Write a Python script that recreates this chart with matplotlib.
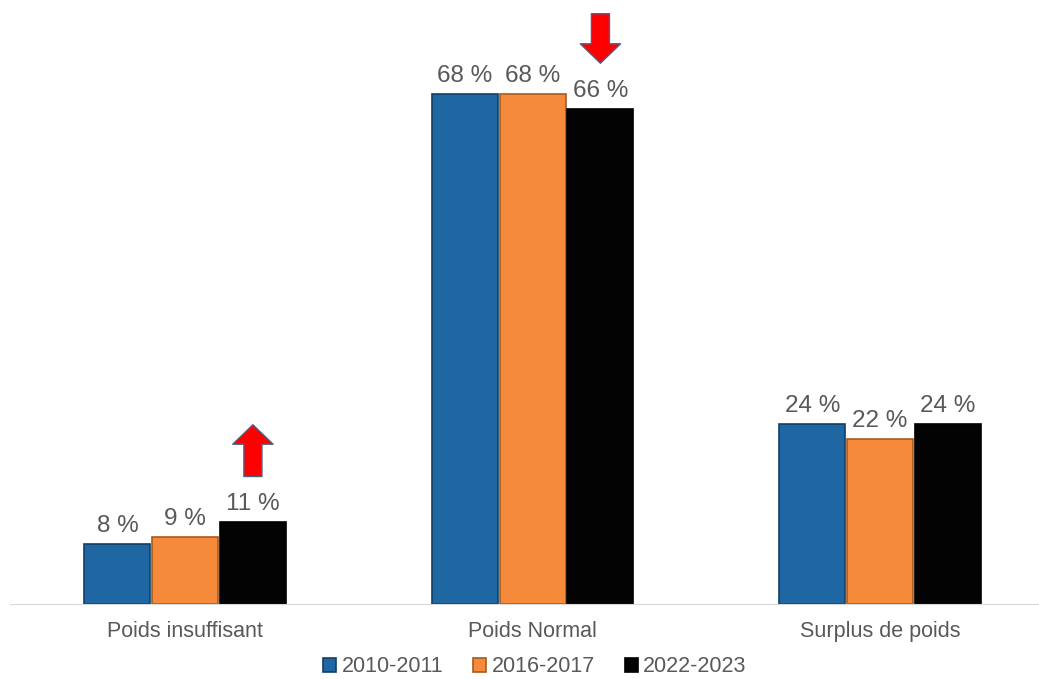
import matplotlib.pyplot as plt
import numpy as np

categories = ["Poids insuffisant", "Poids Normal", "Surplus de poids"]
periods = ["2010-2011", "2016-2017", "2022-2023"]
values_2010 = [8, 68, 24]
values_2016 = [9, 68, 22]
values_2022 = [11, 66, 24]

plt.rcParams["font.family"] = ["Liberation Sans", "DejaVu Sans"]
gris = "#595959"

couleurs = ["#1F67A3", "#F58A3B", "#030303"]
bords = ["#123F66", "#A85A20", "#000000"]
series = [values_2010, values_2016, values_2022]

fig = plt.figure(figsize=(10.39, 6.79), dpi=100)
ax = fig.add_axes([10 / 1039, 75 / 679, 1029 / 1039, 600 / 679])

x = np.arange(len(categories))
largeur = 0.19
pas = 0.195

for i, vals in enumerate(series):
    pos = x + (i - 1) * pas
    barres = ax.bar(pos, vals, largeur, color=couleurs[i], edgecolor=bords[i],
                    linewidth=1.2, label=periods[i])
    for b, v in zip(barres, vals):
        ax.annotate(f"{v} %", (b.get_x() + b.get_width() / 2, v),
                    xytext=(0, 5), textcoords="offset points",
                    ha="center", va="bottom", fontsize=17.5, color=gris)

# flèches rouges (hausse / baisse) au-dessus des barres 2022-2023
fleches = [(0, 12.9, 6.0), (1, 6.1, 12.7)]  # (catégorie, décalage pointe, décalage queue)
for c, d_pointe, d_queue in fleches:
    xp = x[c] + pas
    v = values_2022[c]
    if c == 0:
        tip, tail = v + d_pointe, v + d_queue
    else:
        tip, tail = v + d_pointe, v + d_queue
    ax.annotate("", xy=(xp, tip), xytext=(xp, tail),
                arrowprops=dict(arrowstyle="simple,head_length=14,head_width=29,tail_width=13",
                                mutation_scale=1, shrinkA=0, shrinkB=0,
                                facecolor="#FF0000", edgecolor="#4F5E86", linewidth=1))

ax.set_xlim(-0.504, 2.457)
ax.set_ylim(0, 80)
ax.set_xticks(x)
ax.set_xticklabels(categories, fontsize=15.5, color=gris)
ax.tick_params(axis="x", length=0, pad=12)
ax.set_yticks([])
for s in ["top", "right", "left"]:
    ax.spines[s].set_visible(False)
ax.spines["bottom"].set_color("#D9D9D9")

fig.legend(loc="center", bbox_to_anchor=(535 / 1039, 12 / 679), ncol=3, frameon=False,
           fontsize=15.5, labelcolor=gris, handlelength=0.6, handleheight=0.6,
           handletextpad=0.25, columnspacing=1.4)

fig.savefig("out.png", dpi=100)
